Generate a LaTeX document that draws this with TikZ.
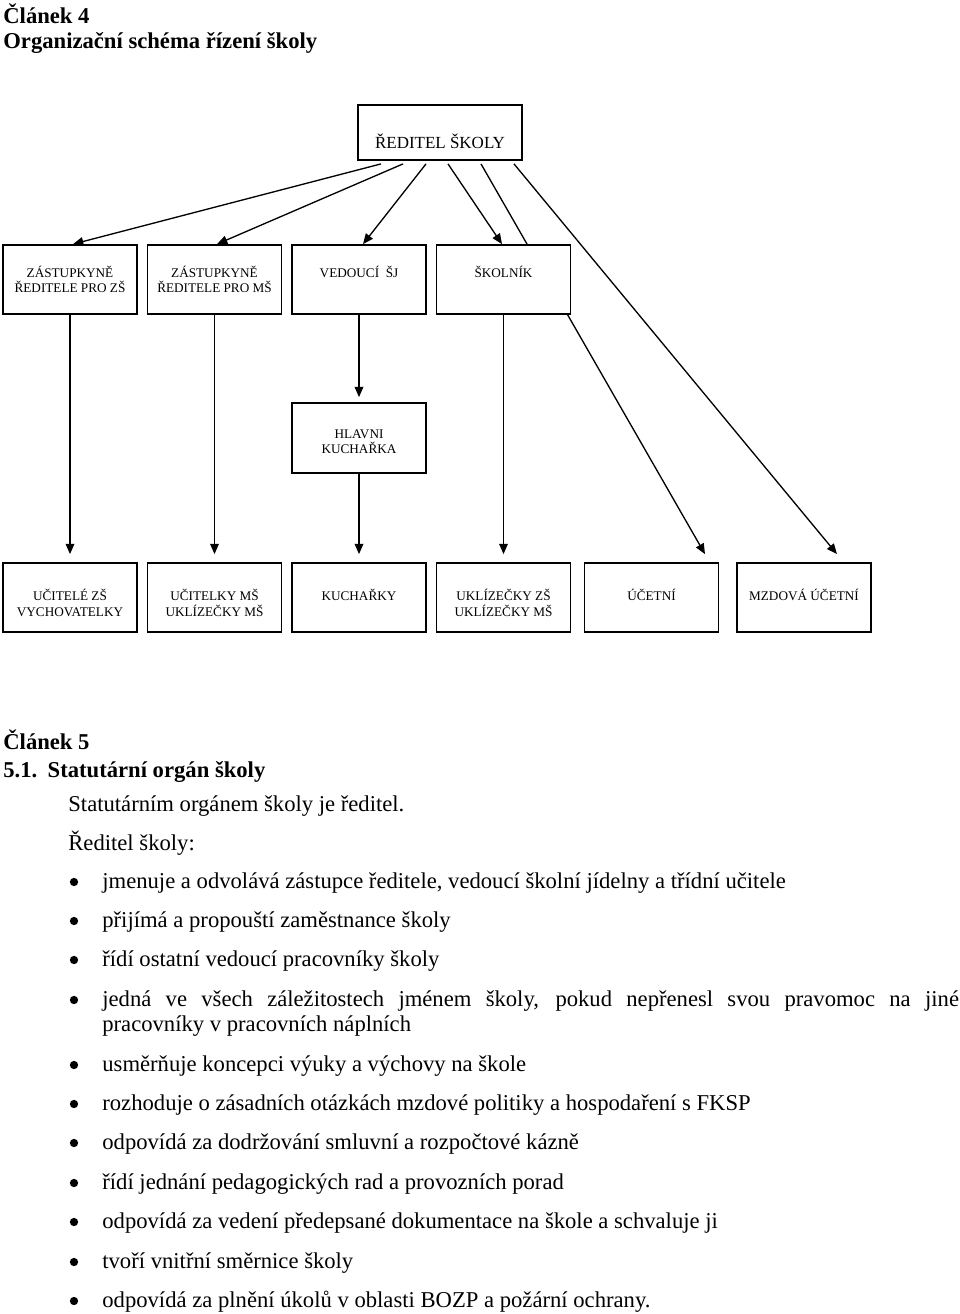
\documentclass[tikz,border=0pt]{standalone}
\usepackage{fontspec}
\setmainfont{Liberation Serif}
\usetikzlibrary{arrows.meta,calc}

\begin{document}
\begin{tikzpicture}[x=0.53pt,y=-0.53pt,
        box/.style={draw,line width=0.9pt,fill=white,inner sep=0pt,align=center,
            minimum width=71pt,minimum height=36.6pt,font=\fontsize{7}{8.4}\selectfont},
        rowb/.style={box,text height=17pt,text depth=19.6pt},
        rowbb/.style={box,text height=25.4pt,text depth=11.2pt},
        rowc/.style={box,text height=19.7pt,text depth=16.9pt},
        rowcc/.style={box,text height=28.1pt,text depth=8.5pt},
        midbox/.style={box,minimum height=37.1pt,text height=27pt,text depth=10.1pt},
        topbox/.style={box,minimum width=87pt,minimum height=29.2pt,text height=23.3pt,
            text depth=5.9pt,font=\fontsize{9}{10.8}\selectfont},
        arr/.style={-{Triangle[length=5.5pt,width=4.6pt]},line width=0.7pt},
        txt/.style={anchor=base west,inner sep=0pt,font=\fontsize{12}{14}\selectfont},
        hd/.style={txt,font=\fontsize{12}{14}\selectfont\bfseries},
        bul/.style={circle,fill,inner sep=0pt,minimum size=4.4pt}]

            \useasboundingbox (0,0) rectangle (960,1314);

            \node[hd] (cl4) at (3,23) {Článek 4};
            \node[hd] (cl4t) at (3,48) {Organizační schéma řízení školy};

            % schema
            \node[topbox] (reditel) at (440,132.5) {ŘEDITEL ŠKOLY};
            \node[rowbb] (zastzs) at (70,279.5) {ZÁSTUPKYNĚ\\ŘEDITELE PRO ZŠ};
            \node[rowbb] (zastms) at (214.5,279.5) {ZÁSTUPKYNĚ\\ŘEDITELE PRO MŠ};
            \node[rowb] (vedsj) at (359,279.5) {VEDOUCÍ~ ŠJ};
            \node[midbox] (hlavni) at (359,438) {HLAVNI\\KUCHAŘKA};
            \node[rowcc] (ucitzs) at (70,597.5) {UČITELÉ ZŠ\\VYCHOVATELKY};
            \node[rowcc] (ucitms) at (214.5,597.5) {UČITELKY MŠ\\UKLÍZEČKY MŠ};
            \node[rowc] (kucharky) at (359,597.5) {KUCHAŘKY};
            \node[rowcc] (uklid) at (503.5,597.5) {UKLÍZEČKY ZŠ\\UKLÍZEČKY MŠ};
            \node[rowc] (ucetni) at (651.5,597.5) {ÚČETNÍ};
            \node[rowc] (mzdova) at (804,597.5) {MZDOVÁ ÚČETNÍ};

            \draw[arr] ($(reditel.south)+(-59,3)$) -- ($(zastzs.north)+(3,0)$);
            \draw[arr] ($(reditel.south)+(-37,3)$) -- ($(zastms.north)+(2.5,0)$);
            \draw[arr] ($(reditel.south)+(-14,3)$) -- ($(vedsj.north)+(4,0)$);
            \draw[arr] ($(reditel.south)+(41,3)$) -- ($(ucetni.north)+(53.5,-8)$);
            \draw[arr] ($(reditel.south)+(74,3)$) -- ($(mzdova.north)+(33,-8)$);
%             skolnik goes over the line to ucetni
            \node[rowb] (skolnik) at (503.5,279.5) {ŠKOLNÍK};
            \draw[arr] ($(reditel.south)+(8,3)$) -- ($(skolnik.north)+(-1.5,0)$);

            \draw[arr] (vedsj.south) -- ($(hlavni.north)+(0,-5)$);
            \foreach \a/\b in {zastzs/ucitzs,zastms/ucitms,hlavni/kucharky,skolnik/uklid}
                \draw[arr] (\a.south) -- ($(\b.north)+(0,-8)$);

            % clanek 5
            \node[hd] (cl5) at (3,749) {Článek 5};
            \node[hd] (cl51) at (3,777) {5.1.\hspace{5.5pt}Statutární orgán školy};
            \node[txt] (stat) at (68,811) {Statutárním orgánem školy je ředitel.};
            \node[txt] (red) at (68,850) {Ředitel školy:};

            \foreach \y/\t in {888/{jmenuje a odvolává zástupce ředitele, vedoucí školní jídelny a třídní učitele},
                927/{přijímá a propouští zaměstnance školy},
                966/{řídí ostatní vedoucí pracovníky školy},
                1071/{usměrňuje koncepci výuky a výchovy na škole},
                1110/{rozhoduje o zásadních otázkách mzdové politiky a hospodaření s FKSP},
                1149/{odpovídá za dodržování smluvní a rozpočtové kázně},
                1189/{řídí jednání pedagogických rad a provozních porad},
                1228/{odpovídá za vedení předepsané dokumentace na škole a schvaluje ji},
                1268/{tvoří vnitřní směrnice školy},
                1307/{odpovídá za plnění úkolů v oblasti BOZP a požární ochrany.}}
            {
                \node[bul] (b\y) at (74,\y-6) {};
                \node[txt] (t\y) at (102,\y) {\t};
            }
            \node[bul] (b1006) at (74,1000) {};
            \node[txt] (t1006) at (102,1006) {\makebox[454pt][s]{jedná ve všech záležitostech jménem školy, pokud nepřenesl svou pravomoc na jiné}};
            \node[txt] (t1031) at (102,1031) {pracovníky v pracovních náplních};
\end{tikzpicture}
\end{document}
